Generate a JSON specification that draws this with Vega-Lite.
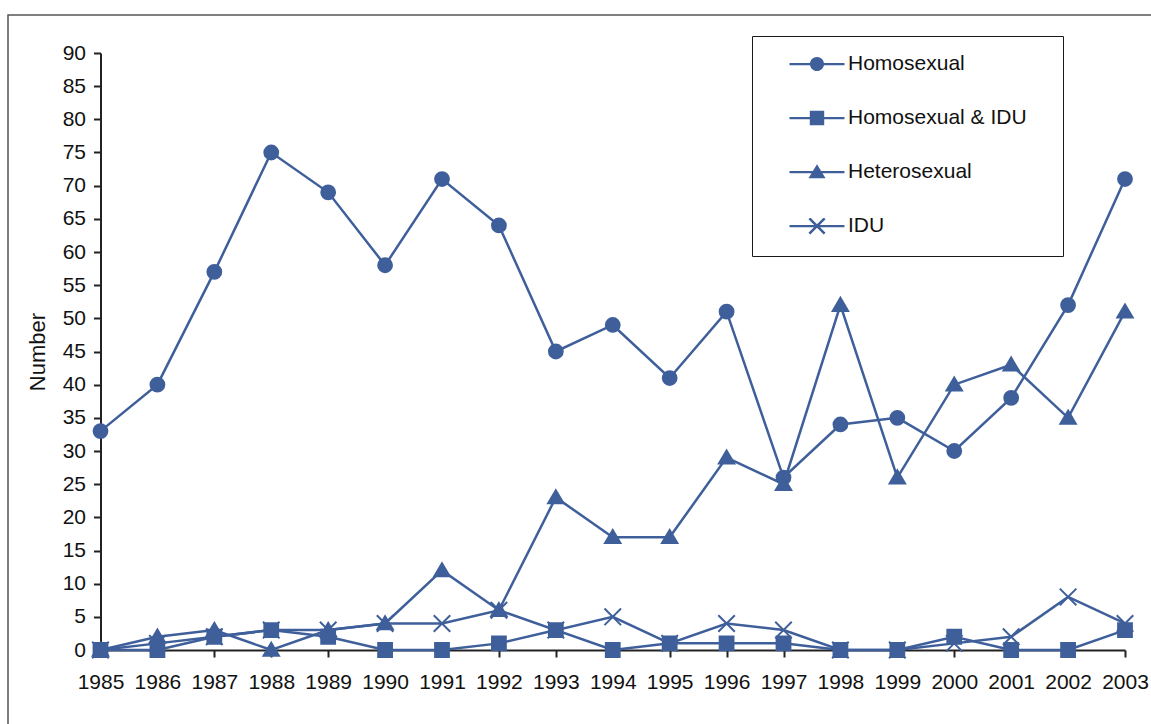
{
  "$schema": "https://vega.github.io/schema/vega-lite/v6.json",
  "autosize": "none",
  "padding": {"left": 8, "top": 15, "right": 0, "bottom": 0},
  "width": 1150,
  "height": 720,
  "config": {
    "font": "Liberation Sans",
    "view": {"stroke": "#555555", "strokeWidth": 1.5},
    "axis": {"grid": false, "domainColor": "#222222", "domainWidth": 2, "tickColor": "#222222", "tickWidth": 2, "tickSize": 7, "labelColor": "#111111", "labelFontSize": 21, "labelFont": "Liberation Sans", "titleFont": "Liberation Sans", "titleFontWeight": "normal", "titleColor": "#111111"}
  },
  "data": {"values": [
    {"year": 1985, "group": "Homosexual", "count": 33},
    {"year": 1986, "group": "Homosexual", "count": 40},
    {"year": 1987, "group": "Homosexual", "count": 57},
    {"year": 1988, "group": "Homosexual", "count": 75},
    {"year": 1989, "group": "Homosexual", "count": 69},
    {"year": 1990, "group": "Homosexual", "count": 58},
    {"year": 1991, "group": "Homosexual", "count": 71},
    {"year": 1992, "group": "Homosexual", "count": 64},
    {"year": 1993, "group": "Homosexual", "count": 45},
    {"year": 1994, "group": "Homosexual", "count": 49},
    {"year": 1995, "group": "Homosexual", "count": 41},
    {"year": 1996, "group": "Homosexual", "count": 51},
    {"year": 1997, "group": "Homosexual", "count": 26},
    {"year": 1998, "group": "Homosexual", "count": 34},
    {"year": 1999, "group": "Homosexual", "count": 35},
    {"year": 2000, "group": "Homosexual", "count": 30},
    {"year": 2001, "group": "Homosexual", "count": 38},
    {"year": 2002, "group": "Homosexual", "count": 52},
    {"year": 2003, "group": "Homosexual", "count": 71},
    {"year": 1985, "group": "Heterosexual", "count": 0},
    {"year": 1986, "group": "Heterosexual", "count": 2},
    {"year": 1987, "group": "Heterosexual", "count": 3},
    {"year": 1988, "group": "Heterosexual", "count": 0},
    {"year": 1989, "group": "Heterosexual", "count": 3},
    {"year": 1990, "group": "Heterosexual", "count": 4},
    {"year": 1991, "group": "Heterosexual", "count": 12},
    {"year": 1992, "group": "Heterosexual", "count": 6},
    {"year": 1993, "group": "Heterosexual", "count": 23},
    {"year": 1994, "group": "Heterosexual", "count": 17},
    {"year": 1995, "group": "Heterosexual", "count": 17},
    {"year": 1996, "group": "Heterosexual", "count": 29},
    {"year": 1997, "group": "Heterosexual", "count": 25},
    {"year": 1998, "group": "Heterosexual", "count": 52},
    {"year": 1999, "group": "Heterosexual", "count": 26},
    {"year": 2000, "group": "Heterosexual", "count": 40},
    {"year": 2001, "group": "Heterosexual", "count": 43},
    {"year": 2002, "group": "Heterosexual", "count": 35},
    {"year": 2003, "group": "Heterosexual", "count": 51},
    {"year": 1985, "group": "IDU", "count": 0},
    {"year": 1986, "group": "IDU", "count": 1},
    {"year": 1987, "group": "IDU", "count": 2},
    {"year": 1988, "group": "IDU", "count": 3},
    {"year": 1989, "group": "IDU", "count": 3},
    {"year": 1990, "group": "IDU", "count": 4},
    {"year": 1991, "group": "IDU", "count": 4},
    {"year": 1992, "group": "IDU", "count": 6},
    {"year": 1993, "group": "IDU", "count": 3},
    {"year": 1994, "group": "IDU", "count": 5},
    {"year": 1995, "group": "IDU", "count": 1},
    {"year": 1996, "group": "IDU", "count": 4},
    {"year": 1997, "group": "IDU", "count": 3},
    {"year": 1998, "group": "IDU", "count": 0},
    {"year": 1999, "group": "IDU", "count": 0},
    {"year": 2000, "group": "IDU", "count": 1},
    {"year": 2001, "group": "IDU", "count": 2},
    {"year": 2002, "group": "IDU", "count": 8},
    {"year": 2003, "group": "IDU", "count": 4},
    {"year": 1985, "group": "Homosexual & IDU", "count": 0},
    {"year": 1986, "group": "Homosexual & IDU", "count": 0},
    {"year": 1987, "group": "Homosexual & IDU", "count": 2},
    {"year": 1988, "group": "Homosexual & IDU", "count": 3},
    {"year": 1989, "group": "Homosexual & IDU", "count": 2},
    {"year": 1990, "group": "Homosexual & IDU", "count": 0},
    {"year": 1991, "group": "Homosexual & IDU", "count": 0},
    {"year": 1992, "group": "Homosexual & IDU", "count": 1},
    {"year": 1993, "group": "Homosexual & IDU", "count": 3},
    {"year": 1994, "group": "Homosexual & IDU", "count": 0},
    {"year": 1995, "group": "Homosexual & IDU", "count": 1},
    {"year": 1996, "group": "Homosexual & IDU", "count": 1},
    {"year": 1997, "group": "Homosexual & IDU", "count": 1},
    {"year": 1998, "group": "Homosexual & IDU", "count": 0},
    {"year": 1999, "group": "Homosexual & IDU", "count": 0},
    {"year": 2000, "group": "Homosexual & IDU", "count": 2},
    {"year": 2001, "group": "Homosexual & IDU", "count": 0},
    {"year": 2002, "group": "Homosexual & IDU", "count": 0},
    {"year": 2003, "group": "Homosexual & IDU", "count": 3}
  ]},
  "encoding": {
    "x": {
      "field": "year", "type": "quantitative",
      "scale": {"domain": [1985, 2003], "range": [92.5, 1117], "nice": false, "zero": false},
      "axis": {"values": [1985, 1986, 1987, 1988, 1989, 1990, 1991, 1992, 1993, 1994, 1995, 1996, 1997, 1998, 1999, 2000, 2001, 2002, 2003], "format": "d", "title": null, "offset": -85, "labelPadding": 14, "labelOverlap": false, "labelFlush": false}
    },
    "y": {
      "field": "count", "type": "quantitative",
      "scale": {"domain": [0, 90], "range": [635, 38], "nice": false},
      "axis": {"values": [0, 5, 10, 15, 20, 25, 30, 35, 40, 45, 50, 55, 60, 65, 70, 75, 80, 85, 90], "title": "Number", "titleFontSize": 22, "titlePadding": 13, "offset": -92.5, "labelPadding": 8}
    }
  },
  "layer": [
    {
      "mark": {"type": "line", "color": "#3F5F9B", "strokeWidth": 2.5},
      "encoding": {"detail": {"field": "group"}}
    },
    {
      "mark": {"type": "point", "filled": true, "color": "#3F5F9B", "stroke": "#3F5F9B", "strokeWidth": 2, "opacity": 1, "size": 190},
      "encoding": {
        "shape": {
          "field": "group", "type": "nominal",
          "scale": {"domain": ["Homosexual", "Homosexual & IDU", "Heterosexual", "IDU"], "range": ["circle", "square", "M0,-1.05L1.12,0.85H-1.12Z", "M-1.2,-1.2L1.2,1.2M-1.2,1.2L1.2,-1.2"]},
          "legend": null
        }
      }
    },
    {
      "mark": {"type": "point", "filled": true, "color": "#3F5F9B", "opacity": 0, "size": 10},
      "encoding": {
        "shape": {
          "field": "group", "type": "nominal",
          "scale": {"domain": ["Homosexual", "Homosexual & IDU", "Heterosexual", "IDU"], "range": [
            "M-0.611,-0.025H0.611V0.025H-0.611ZM-0.156,0A0.156,0.156,0,1,1,0.156,0A0.156,0.156,0,1,1,-0.156,0Z",
            "M-0.611,-0.025H0.611V0.025H-0.611ZM-0.16,-0.16H0.16V0.16H-0.16Z",
            "M-0.611,-0.025H0.611V0.025H-0.611ZM0,-0.17L0.19,0.14H-0.19Z",
            "M-0.611,-0.025H0.611V0.025H-0.611ZM-0.15,-0.19L0.19,0.15L0.15,0.19L-0.19,-0.15ZM-0.15,0.19L-0.19,0.15L0.15,-0.19L0.19,-0.15Z"
          ]},
          "legend": {
            "orient": "none", "legendX": 744, "legendY": 21,
            "title": ".", "titleOrient": "right", "titleFontSize": 1, "titleColor": "rgba(0,0,0,0)", "titlePadding": 15,
            "padding": 20, "strokeColor": "#1a1a1a",
            "symbolSize": 8100, "clipHeight": 16, "rowPadding": 33,
            "symbolOpacity": 1, "symbolFillColor": "#3F5F9B", "symbolStrokeColor": "#3F5F9B", "symbolStrokeWidth": 0,
            "labelFontSize": 21, "labelFont": "Liberation Sans", "labelColor": "#111111",
            "labelOffset": -14, "labelLimit": 400
          }
        }
      }
    }
  ],
  "resolve": {"scale": {"shape": "independent"}}
}
